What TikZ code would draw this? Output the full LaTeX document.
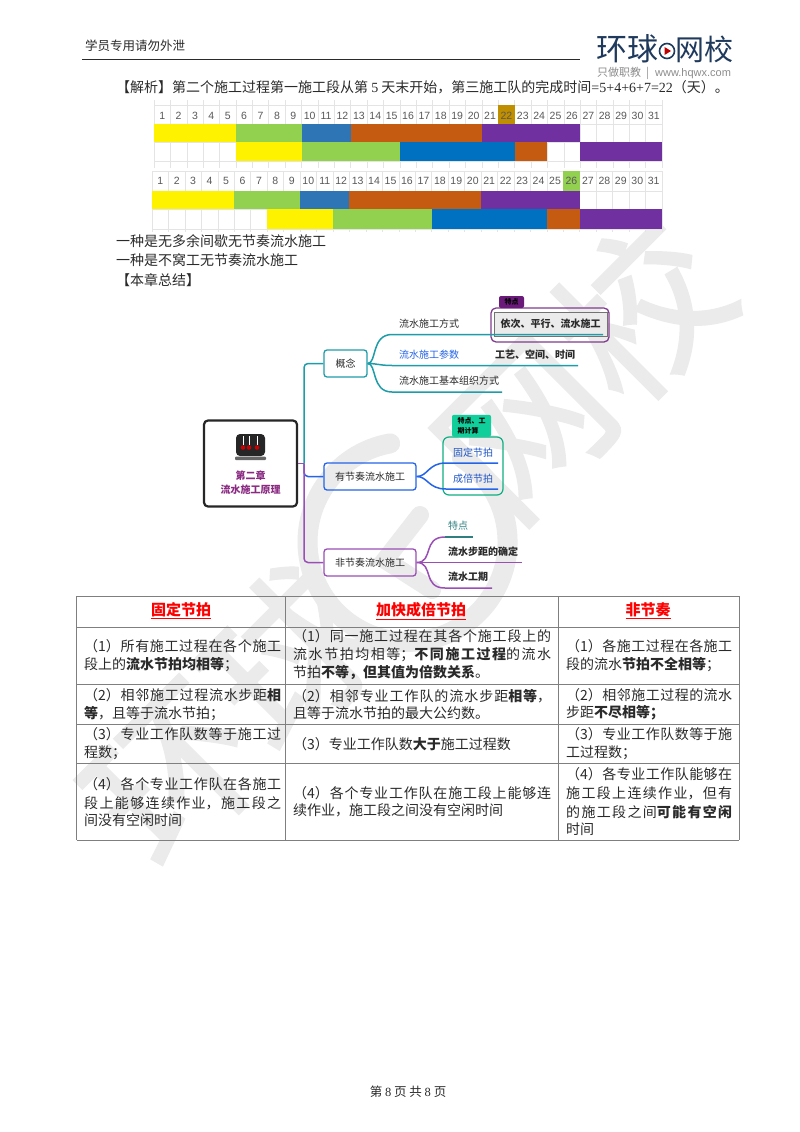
\documentclass[tikz,border=0pt]{standalone}
\usepackage{fontspec}
\setmainfont{Noto Sans CJK SC}
\newfontfamily\latinfont{Liberation Serif}
\newfontfamily\numfont{Liberation Sans}
\newfontfamily\markfont[FakeBold=1.5]{Noto Sans CJK SC}
\XeTeXlinebreaklocale "zh"
\XeTeXlinebreakskip=0pt plus 4pt
\usetikzlibrary{positioning,calc}
\definecolor{inkgray}{HTML}{2A2A2A}
\definecolor{markgray}{HTML}{EBEBEB}
\definecolor{rulegray}{HTML}{7F7F7F}
\definecolor{gridgray}{HTML}{E4E4E4}
\definecolor{logonavy}{HTML}{1F3A5C}
\definecolor{barblue}{HTML}{2E75B6}
\definecolor{barblueb}{HTML}{0070C0}
\definecolor{bargreen}{HTML}{92D050}
\definecolor{barorange}{HTML}{C55A11}
\definecolor{barpurple}{HTML}{7030A0}
\definecolor{bargold}{HTML}{BF8F00}
\definecolor{mapteal}{HTML}{1E9DA8}
\definecolor{mapblue}{HTML}{2464E8}
\definecolor{mappurple}{HTML}{9A4FB5}
\definecolor{mapdark}{HTML}{2F7F80}
\definecolor{tagpurple}{HTML}{6A1B7A}
\definecolor{tagmint}{HTML}{10CF9B}
\definecolor{rootpurple}{HTML}{8A2A82}
\tikzset{
  bodytext/.style={anchor=west,inner sep=0pt,text=inkgray,font=\fontsize{14}{19}\selectfont},
  headcell/.style={inner sep=0pt,text=red,font=\fontsize{15}{19}\selectfont\bfseries},
  cell/.style={anchor=west,inner sep=0pt,align=left,text=inkgray,font=\fontsize{14}{19}\selectfont},
  daynum/.style={inner sep=0pt,text=black!65,font=\fontsize{10.5}{12}\numfont},
  branchbox/.style={draw,line width=1.3pt,rounded corners=3pt,minimum height=27pt,inner sep=0pt,text=inkgray,font=\fontsize{10}{12}\selectfont},
  leaf/.style={anchor=west,inner sep=0pt,text=inkgray,font=\fontsize{10}{12}\selectfont},
  boldleaf/.style={leaf,font=\fontsize{10}{12}\selectfont\bfseries},
  maptag/.style={rounded corners=2pt,inner sep=0pt,align=left,text=black,font=\fontsize{7}{10}\selectfont\bfseries},
  mapline/.style={line width=1.5pt},
  bigmark/.style={rotate=45,text=markgray,inner sep=0pt,font=\fontsize{165}{165}\markfont}
}
\newcommand{\lat}[1]{{\latinfont #1}}
\newcommand{\fitline}[2]{\parbox{#1}{\parfillskip=0pt #2\par}}
\newcommand{\fita}[1]{\fitline{197pt}{#1}}
\newcommand{\fitb}[1]{\fitline{258pt}{#1}}
\newcommand{\fitc}[1]{\fitline{166pt}{#1}}
\begin{document}
\begin{tikzpicture}[x=1pt,y=-1pt]
\useasboundingbox[fill=white] (0,0) rectangle (800,1132);
% watermark
\node[bigmark] (marka) at (232,714) {环球};
\node[bigmark] (markb) at (582,368) {网校};
\draw[markgray,line width=20pt,line cap=round] (462,458) arc (-57:260:100);
\draw[markgray,line width=18pt,line cap=round] (432,590) -- (385,560) -- (420,515);
% page head
\node[anchor=west,inner sep=0pt,text=inkgray,font=\fontsize{12.5}{14}\selectfont] (head) at (85,46) {学员专用请勿外泄};
\draw[inkgray,line width=.8pt] (82,59.5) -- (580,59.5);
\node[anchor=west,inner sep=0pt,text=logonavy,font=\fontsize{31}{33}\selectfont] (logoa) at (596,49) {环球};
\node[anchor=west,inner sep=0pt,text=logonavy,font=\fontsize{29}{33}\selectfont] (logob) at (675,49) {网校};
\draw[logonavy,line width=1.6pt] (667,51) circle (7.5);
\fill[red!75!black] (664.5,47) -- (671,51) -- (664.5,55) -- cycle;
\node[anchor=west,inner sep=0pt,text=black!45,font=\fontsize{11}{12}\selectfont] (slogan) at (597,73) {只做职教\hspace{5pt}\textbar\hspace{6pt}{\numfont www.hqwx.com}};
% analysis line
\node[bodytext] (jiexi) at (116,87) {【解析】第二个施工过程第一施工段从第 \lat{5} 天末开始，第三施工队的完成时间\lat{=5+4+6+7=22}（天）。};
% first chart
\foreach \i in {0,...,31} \draw[gridgray,line width=.5pt] ({154+\i*16.39},100) -- ({154+\i*16.39},168);
\foreach \y in {105,124,142,161} \draw[gridgray,line width=.5pt] (154,\y) -- (662,\y);
\fill[bargold] ({154+21*16.39},105) rectangle ({154+22*16.39},124);
\foreach \a/\b/\c in {0/5/yellow,5/9/bargreen,9/12/barblue,12/20/barorange,20/26/barpurple}
  \fill[\c] ({154+\a*16.39},124) rectangle ({154+\b*16.39},142);
\foreach \a/\b/\c in {5/9/yellow,9/15/bargreen,15/22/barblueb,22/24/barorange,26/31/barpurple}
  \fill[\c] ({154+\a*16.39},142) rectangle ({154+\b*16.39},161);
\foreach \i in {1,...,31} \node[daynum] (numa\i) at ({154+(\i-.5)*16.39},116) {\i};
% second chart
\foreach \i in {0,...,31} \draw[gridgray,line width=.5pt] ({152+\i*16.45},171) -- ({152+\i*16.45},232);
\foreach \y in {171,191,209,229} \draw[gridgray,line width=.5pt] (152,\y) -- (662,\y);
\fill[bargreen] ({152+25*16.45},171) rectangle ({152+26*16.45},191);
\foreach \a/\b/\c in {0/5/yellow,5/9/bargreen,9/12/barblue,12/20/barorange,20/26/barpurple}
  \fill[\c] ({152+\a*16.45},191) rectangle ({152+\b*16.45},209);
\foreach \a/\b/\c in {7/11/yellow,11/17/bargreen,17/24/barblueb,24/26/barorange,26/31/barpurple}
  \fill[\c] ({152+\a*16.45},209) rectangle ({152+\b*16.45},229);
\foreach \i in {1,...,31} \node[daynum] (numb\i) at ({152+(\i-.5)*16.45},181) {\i};
% text under the charts
\node[bodytext] (nogap) at (116,241) {一种是无多余间歇无节奏流水施工};
\node[bodytext] (noidle) at (116,260) {一种是不窝工无节奏流水施工};
\node[bodytext] (summary) at (116,280) {【本章总结】};
% mind map
\node[draw=black!85,line width=2.2pt,rounded corners=4pt,minimum width=93pt,minimum height=86pt,inner sep=0pt] (root) at (250.5,463.5) {};
\fill[black!85,rounded corners=4pt] (236,434) rectangle (265,456);
\fill[black!60,rounded corners=1pt] (235,456.5) rectangle (266,460);
\foreach \x in {243,249,257} {\draw[white,line width=.4pt] (\x,436) -- (\x,445); \fill[red!80!black] (\x,447.5) circle (2.3);}
\node[inner sep=0pt,align=center,text=rootpurple,font=\fontsize{10}{13.5}\selectfont\bfseries] (roottext) at (250.5,482.5) {第二章\\流水施工原理};
\node[branchbox,draw=mapteal,minimum width=43pt] (gainian) at (345.5,363.5) {概念};
\node[branchbox,draw=mapblue,minimum width=92pt] (youjie) at (370,476.5) {有节奏流水施工};
\node[branchbox,draw=mappurple,minimum width=92pt] (feijie) at (370,562.5) {非节奏流水施工};
\coordinate (trunk) at (304,463.5);
\draw[mappurple,mapline] (root.east) -- (trunk);
\draw[mapteal,mapline,rounded corners=4pt] (trunk) |- (gainian.west);
\draw[mapblue,mapline,rounded corners=4pt] (trunk) |- (youjie.west);
\draw[mappurple,mapline,rounded corners=4pt] (trunk) |- (feijie.west);
% concept branch
\node[draw=tagpurple!85,line width=1.3pt,rounded corners=5pt,minimum width=118pt,minimum height=34pt,inner sep=0pt] (modeout) at (550,325) {};
\node[draw=black!55,fill=black!8,line width=.8pt,minimum width=113pt,minimum height=24pt,inner sep=0pt,font=\fontsize{10}{12}\selectfont\bfseries,text=inkgray] (modebox) at (550.5,324) {依次、平行、流水施工};
\node[maptag,fill=tagpurple,minimum width=25pt,minimum height=12pt,align=center] (modetag) at (511.5,302) {特点};
\coordinate (enda) at (603,334.5);
\coordinate (endb) at (578,365.5);
\coordinate (endc) at (502,392);
\draw[mapteal,mapline] (gainian.east) .. controls (377,363.5) and (371,334.5) .. (392,334.5) -- (enda);
\draw[mapteal,mapline] (gainian.east) .. controls (377,363.5) and (380,365.5) .. (392,365.5) -- (endb);
\draw[mapteal,mapline] (gainian.east) .. controls (377,363.5) and (371,392) .. (392,392) -- (endc);
\node[leaf] (fangshi) at (399,324) {流水施工方式};
\node[leaf,text=mapblue] (canshu) at (399,355) {流水施工参数};
\node[leaf] (zuzhi) at (399,381) {流水施工基本组织方式};
\node[boldleaf] (gongyi) at (495,355) {工艺、空间、时间};
% rhythmic branch
\node[draw=tagmint!85!black,line width=1.2pt,rounded corners=6pt,minimum width=60pt,minimum height=58pt,inner sep=0pt] (rhythmbox) at (473,466) {};
\node[maptag,fill=tagmint,minimum width=39pt,minimum height=22pt,anchor=south] (rhythmtag) at (471.5,437) {特点、工\\期计算};
\coordinate (endd) at (498,463);
\coordinate (ende) at (498,489);
\draw[mapblue,mapline] (youjie.east) .. controls (428,476.5) and (428,463) .. (446,463) -- (endd);
\draw[mapblue,mapline] (youjie.east) .. controls (428,476.5) and (428,489) .. (446,489) -- (ende);
\node[leaf,text=mapblue!85!black] (guding) at (453,453) {固定节拍};
\node[leaf,text=mapblue!85!black] (chengbei) at (453,479) {成倍节拍};
% free rhythm branch
\coordinate (endf) at (473,537);
\coordinate (endg) at (522,562.5);
\coordinate (endh) at (492,588);
\draw[mappurple,mapline] (feijie.east) .. controls (434,562.5) and (422,537) .. (445,537);
\draw[mapdark,mapline] (445,537) -- (endf);
\draw[mappurple,mapline] (feijie.east) -- (endg);
\draw[mappurple,mapline] (feijie.east) .. controls (434,562.5) and (422,588) .. (445,588) -- (endh);
\node[leaf,text=mapdark] (tedian) at (448,526) {特点};
\node[boldleaf] (buju) at (448,552) {流水步距的确定};
\node[boldleaf] (gongqi) at (448,577) {流水工期};
% table
\foreach \x in {76.5,285.5,558,739} \draw[rulegray,line width=.9pt] (\x,596) -- (\x,840);
\foreach \y in {596,627,684,724,763,840} \draw[rulegray,line width=.9pt] (76.5,\y) -- (739,\y);
\node[headcell] (heada) at (181,611) {\underline{固定节拍}};
\node[headcell] (headb) at (421,611) {\underline{加快成倍节拍}};
\node[headcell] (headc) at (648,611) {\underline{非节奏}};
\node[cell] (aone) at (84,655.5) {\fita{（1）所有施工过程在各个施工}\\段上的\textbf{流水节拍均相等}；};
\node[cell] (bone) at (293,654.5) {\fitb{（1）同一施工过程在其各个施工段上的}\\\fitb{流水节拍均相等；\textbf{不同施工过程}的流水}\\节拍\textbf{不等，但其值为倍数关系}。};
\node[cell] (cone) at (566,655.5) {\fitc{（1）各施工过程在各施工}\\段的流水\textbf{节拍不全相等}；};
\node[cell] (atwo) at (84,704.5) {\fita{（2）相邻施工过程流水步距\textbf{相}}\\\textbf{等}，且等于流水节拍；};
\node[cell] (btwo) at (293,704.5) {\fitb{（2）相邻专业工作队的流水步距\textbf{相等}，}\\且等于流水节拍的最大公约数。};
\node[cell] (ctwo) at (566,704.5) {\fitc{（2）相邻施工过程的流水}\\步距\textbf{不尽相等；}};
\node[cell] (athree) at (84,743.5) {\fita{（3）专业工作队数等于施工过}\\程数；};
\node[cell] (bthree) at (293,744) {（3）专业工作队数\textbf{大于}施工过程数};
\node[cell] (cthree) at (566,743.5) {\fitc{（3）专业工作队数等于施}\\工过程数；};
\node[cell] (afour) at (84,802) {\fita{（4）各个专业工作队在各施工}\\\fita{段上能够连续作业，施工段之}\\间没有空闲时间};
\node[cell] (bfour) at (293,801.5) {\fitb{（4）各个专业工作队在施工段上能够连}\\续作业，施工段之间没有空闲时间};
\node[cell] (cfour) at (566,801.5) {\fitc{（4）各专业工作队能够在}\\\fitc{施工段上连续作业，但有}\\\fitc{的施工段之间\textbf{可能有空闲}}\\时间};
% page foot
\node[inner sep=0pt,text=inkgray,font=\fontsize{12.5}{14}\selectfont] (foot) at (408,1092) {第 \lat{8} 页 共 \lat{8} 页};
\end{tikzpicture}
\end{document}
